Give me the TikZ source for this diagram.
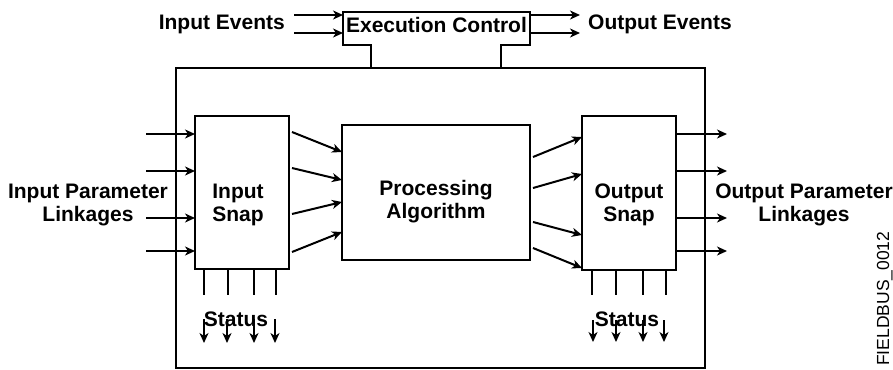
\documentclass[tikz,border=0pt]{standalone}
\usepackage{fontspec}
\setmainfont{Liberation Sans}
\usetikzlibrary{arrows.meta,calc}
\begin{document}
\begin{tikzpicture}[x=1pt,y=-1pt,
  lw/.style={line width=2pt},
  box/.style={draw,lw,inner sep=0pt,outer sep=0pt,anchor=north west},
  arr/.style={lw,-{Stealth[length=10pt,width=9pt,inset=3pt]}},
  lbl/.style={font=\bfseries\fontsize{21}{22.5}\selectfont,inner sep=0pt,align=center},
]
\useasboundingbox (0,0) rectangle (893,369);
% boxes
\node[box,minimum width=529pt,minimum height=300pt] (outer) at (176,68) {};
\node[box,minimum width=94pt,minimum height=153pt] (insnap) at (195,116) {};
\node[box,minimum width=188pt,minimum height=135pt] (proc) at (342,125) {};
\node[box,minimum width=94pt,minimum height=154pt] (outsnap) at (582,116) {};
% execution control
\node[lbl,anchor=base] (exec) at (436.5,33) {Execution Control};
\draw[lw] (371,68) -- (371,45) -- (343,45) -- (343,12) -- (530,12) -- (530,45) -- (501,45) -- (501,68);
\coordinate (exW1) at (343,15);
\coordinate (exW2) at (343,33);
\coordinate (exE1) at (530,15);
\coordinate (exE2) at (530,33);
\node[lbl,anchor=base east] (ievt) at (285,29.5) {Input Events};
\node[lbl,anchor=base west] (oevt) at (588,29.5) {Output Events};
\draw[arr] (294,15) -- (exW1);
\draw[arr] (294,33) -- (exW2);
\draw[arr] (exE1) -- (580,15);
\draw[arr] (exE2) -- (580,33);
% labels (base anchor = baseline of last line)
\node[lbl,anchor=base] (ipl) at (88,221) {Input Parameter\\Linkages};
\node[lbl,anchor=base] (opl) at (804,221) {Output Parameter\\Linkages};
\node[lbl,anchor=base] (isl) at (238,221) {Input\\Snap};
\node[lbl,anchor=base] (osl) at (629,221) {Output\\Snap};
\node[lbl,anchor=base] (pal) at (436,218) {Processing\\Algorithm};
% parameter arrows
\foreach \y in {134,171,218,251} {
  \coordinate (ip) at (146,\y);
  \draw[arr] (ip) -- (ip -| insnap.west);
  \coordinate (op) at (676,\y);
  \draw[arr] (op) -- (727,\y);
}
% input snap -> processing
\draw[arr] (292,132) -- (proc.west |- 0,152);
\draw[arr] (292,168) -- (proc.west |- 0,180);
\draw[arr] (292,214) -- (proc.west |- 0,202);
\draw[arr] (292,252) -- (proc.west |- 0,232);
% processing -> output snap
\draw[arr] (533,157) -- (outsnap.west |- 0,137);
\draw[arr] (533,188) -- (outsnap.west |- 0,174);
\draw[arr] (533,222) -- (outsnap.west |- 0,235);
\draw[arr] (533,248) -- (outsnap.west |- 0,268);
% status stubs
\foreach \x in {204,228,254,276} {
  \draw[lw] (\x,269) -- (\x,295);
}
\foreach \x in {592,616,643,666} {
  \draw[lw] (\x,270) -- (\x,295);
}
\node[lbl,anchor=base] (ist) at (236,326) {Status};
\node[lbl,anchor=base] (ost) at (627,326) {Status};
\foreach \x in {204,227,254,275} {
  \draw[arr] (\x,319) -- (\x,343);
}
\foreach \x in {593,616,643,664} {
  \draw[arr] (\x,320) -- (\x,342);
}
\node[rotate=90,anchor=base west,inner sep=0pt,font=\fontsize{17.5}{17.5}\selectfont] (fb) at (889,366) {FIELDBUS\_0012};
\end{tikzpicture}
\end{document}
